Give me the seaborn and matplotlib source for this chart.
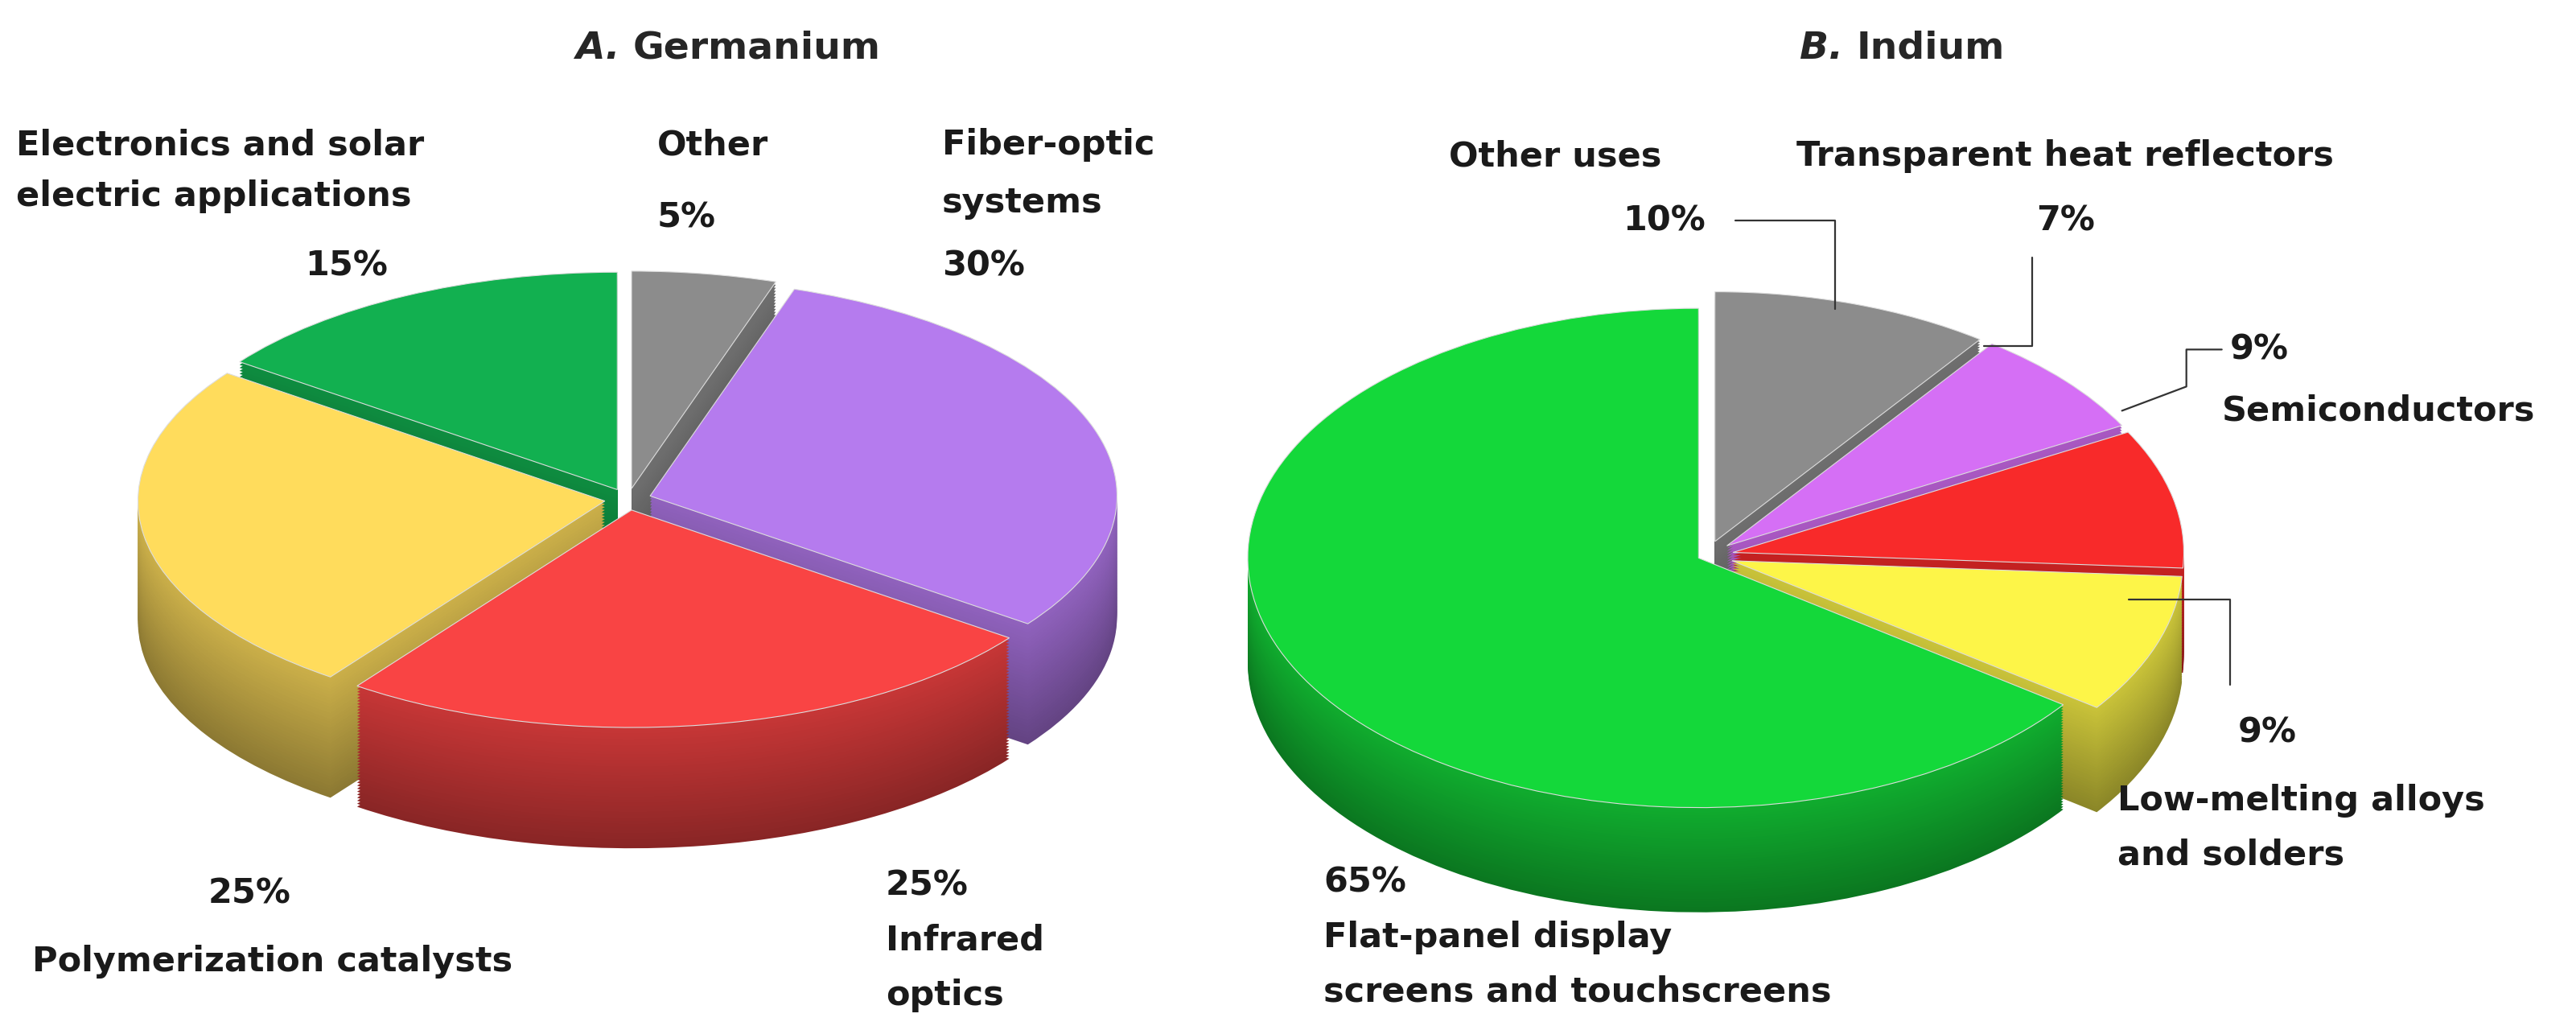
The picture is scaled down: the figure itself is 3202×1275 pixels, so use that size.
import matplotlib
matplotlib.use("Agg")
import matplotlib.pyplot as plt
import seaborn as sns
import numpy as np
from matplotlib.transforms import Affine2D
import matplotlib.colors as mc

sns.set_theme(style="white")
plt.rcParams['font.family'] = ['DejaVu Sans']

ge_labels = ["Other", "Fiber-optic systems", "Infrared optics", "Polymerization catalysts", "Electronics and solar electric applications"]
ge_values = [5, 30, 25, 25, 15]
ge_colors = ["#8c8c8c", "#b57bee", "#f94444", "#ffdc5c", "#12b050"]

in_labels = ["Other uses", "Transparent heat reflectors", "Semiconductors", "Low-melting alloys and solders", "Flat-panel display screens and touchscreens"]
in_values = [10, 7, 9, 9, 65]
in_colors = ["#8c8c8c", "#d56ff5", "#f82a2a", "#fdf548", "#14d83a"]

fig = plt.figure(figsize=(32.02, 12.75), dpi=100)
ax = fig.add_axes([0, 0, 1, 1])

def pie3d(values, colors, explode, cx, cy, rx, ry, depth):
    n = 40
    for k in range(n, -1, -1):
        d = depth * k / n
        if k == 0:
            cols = colors
        else:
            shade = 0.55 + 0.25 * (1 - k / n)
            cols = [tuple(np.array(mc.to_rgb(c)) * shade) for c in colors]
        wedges, _ = ax.pie(values, colors=cols, startangle=90, counterclock=False,
                           explode=explode, radius=1, center=(0, 0), frame=True,
                           wedgeprops=dict(linewidth=0.8 if k == 0 else 0,
                                           edgecolor="#dddddd"))
        tr = Affine2D().scale(rx, -ry).translate(cx, cy + d) + ax.transData
        for w in wedges:
            w.set_transform(tr)
            w.set_zorder(2 + (n - k) * 0.01)

pie3d(ge_values, ge_colors, [0.05] * 5, 390, 310, 290, 135, 75)
pie3d(in_values, in_colors, [0.06, 0.06, 0.06, 0.06, 0.02], 1060, 345, 280, 155, 65)
ax.set_xlim(0, 1600)
ax.set_ylim(637, 0)
ax.set_aspect("auto")
ax.axis("off")

fs = 31
kw = dict(fontsize=fs, fontweight="bold", color="#1a1a1a", zorder=10, va="center")

def lines(x, ys, texts, ha="left"):
    for y, t in zip(ys, texts):
        ax.text(x, y, t, ha=ha, **kw)

# Titles
ax.text(385, 30, "A.", fontsize=34, fontweight="bold", style="italic", ha="right", va="center", zorder=10)
ax.text(393, 30, "Germanium", fontsize=34, fontweight="bold", ha="left", va="center", zorder=10)
ax.text(1145, 30, "B.", fontsize=34, fontweight="bold", style="italic", ha="right", va="center", zorder=10)
ax.text(1153, 30, "Indium", fontsize=34, fontweight="bold", ha="left", va="center", zorder=10)

# Germanium labels
lines(10, [90, 122], ["Electronics and solar", "electric applications"])
ax.text(215, 165, f"{ge_values[4]}%", ha="center", **kw)
lines(408, [90, 135], [ge_labels[0], f"{ge_values[0]}%"])
lines(585, [90, 126, 165], ["Fiber-optic", "systems", f"{ge_values[1]}%"])
lines(550, [550, 584, 618], [f"{ge_values[2]}%", "Infrared", "optics"])
ax.text(155, 555, f"{ge_values[3]}%", ha="center", **kw)
ax.text(20, 597, ge_labels[3], ha="left", **kw)

# Indium labels
ax.text(900, 97, in_labels[0], ha="left", **kw)
ax.text(1008, 137, f"{in_values[0]}%", ha="left", **kw)
ax.plot([1078, 1140, 1140], [137, 137, 192], color="#333333", lw=1.6, zorder=9)
ax.text(1116, 97, in_labels[1], ha="left", **kw)
ax.text(1265, 137, f"{in_values[1]}%", ha="left", **kw)
ax.plot([1262, 1262, 1232], [160, 215, 215], color="#333333", lw=1.6, zorder=9)
ax.text(1385, 217, f"{in_values[2]}%", ha="left", **kw)
ax.text(1380, 255, in_labels[2], ha="left", **kw)
ax.plot([1380, 1358, 1358, 1318], [217, 217, 240, 255], color="#333333", lw=1.6, zorder=9)
ax.text(1390, 455, f"{in_values[3]}%", ha="left", **kw)
lines(1315, [497, 531], ["Low-melting alloys", "and solders"])
ax.plot([1385, 1385, 1322], [425, 372, 372], color="#333333", lw=1.6, zorder=9)
lines(822, [548, 582, 616], [f"{in_values[4]}%", "Flat-panel display", "screens and touchscreens"])

fig.savefig("out.png", dpi=100, facecolor="white")
